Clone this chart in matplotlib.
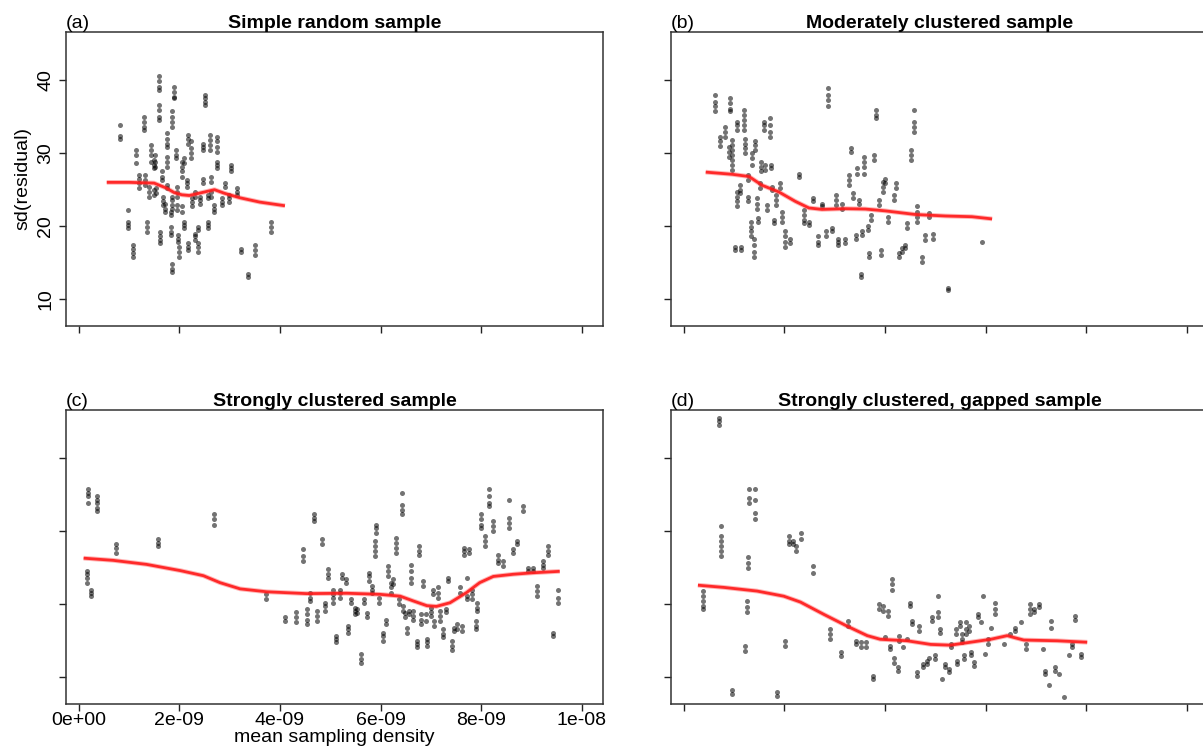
import matplotlib
matplotlib.use("Agg")
import matplotlib.pyplot as plt

plt.rcParams['font.family'] = ['Liberation Sans', 'DejaVu Sans']

# x values in units of 1e-9, y = sd(residual); each x has a column of replicate values
a_x = [0.82, 0.98, 1.09, 1.14, 1.21, 1.29, 1.31, 1.35, 1.40, 1.43, 1.49, 1.50, 1.52, 1.54,
       1.59, 1.59, 1.62, 1.65, 1.68, 1.72, 1.75, 1.75, 1.76, 1.84, 1.84, 1.86, 1.86, 1.86,
       1.90, 1.93, 1.95, 1.96, 1.97, 1.99, 2.05, 2.05, 2.10, 2.10, 2.15, 2.17, 2.18, 2.23,
       2.26, 2.31, 2.31, 2.37, 2.38, 2.41, 2.48, 2.48, 2.51, 2.58, 2.58, 2.61, 2.63, 2.63,
       2.70, 2.76, 2.76, 2.84, 2.91, 2.98, 3.02, 3.14, 3.23, 3.37, 3.51, 3.82]
a_y = [[33.8, 32.4, 31.9], [22.2, 20.6, 20.2, 19.7], [17.4, 16.9, 16.3, 15.8], [30.4, 29.7, 28.6],
       [27.0, 26.5, 25.9, 25.2], [35.0, 34.3, 33.6, 33.2], [27.0, 26.3, 25.6], [20.6, 19.9, 19.2],
       [25.4, 24.7, 24.0], [31.1, 30.4, 29.7, 28.8], [29.0, 28.4, 27.9], [24.9, 24.3],
       [29.7, 28.8, 28.1], [25.2, 24.5], [40.5, 39.8, 39.1, 38.6], [36.6, 35.9, 35.0, 34.5],
       [19.2, 18.6, 18.1, 17.7], [27.5, 26.8, 26.3], [24.0, 23.4, 22.9], [23.1, 22.4, 22.0],
       [29.5, 28.8, 28.1], [25.6, 25.2], [32.7, 32.0, 31.3, 30.9], [19.9, 19.2, 18.8], [22.0, 21.5],
       [35.7, 35.0, 34.3, 33.6], [24.0, 23.6, 22.9, 22.4], [14.9, 14.2, 13.8],
       [39.1, 38.4, 37.7, 37.5], [30.4, 29.7, 29.3], [25.4, 24.7, 24.0], [22.9, 22.2],
       [18.8, 18.3, 17.9], [17.2, 16.5, 15.8], [28.8, 28.1, 27.5, 26.8], [22.7, 22.0],
       [20.6, 20.2, 19.7], [29.3, 28.6], [26.3, 25.9, 25.4], [17.7, 17.2, 16.7], [32.5, 32.0, 31.3],
       [31.6, 30.7, 30.0, 29.3], [23.8, 23.3, 22.7], [19.0, 18.6, 18.1], [24.7, 24.0], [19.9, 19.5],
       [17.7, 17.1, 16.5], [24.0, 23.6, 23.1], [31.3, 30.9, 30.4], [26.5, 25.9],
       [37.9, 37.5, 37.0, 36.6], [20.6, 20.2, 19.7], [24.3, 23.8], [32.5, 31.8, 31.1, 30.4],
       [26.8, 26.1], [24.7, 24.0], [22.9, 22.4, 22.0], [32.2, 31.6, 30.9, 30.2], [28.8, 28.4, 27.9],
       [23.8, 23.3, 22.9], [25.9, 25.4], [24.3, 23.8, 23.3], [28.4, 27.9, 27.5], [25.2, 24.7, 24.3],
       [16.9, 16.5], [13.5, 13.1], [17.4, 16.7, 16.0], [20.6, 19.9, 19.2]]
a_fit_x = [0.56, 1.0, 1.5, 1.75, 1.9, 2.05, 2.2, 2.45, 2.7, 2.9, 3.2, 3.6, 4.1]
a_fit_y = [26.0, 26.0, 25.9, 25.2, 24.6, 24.3, 24.2, 24.6, 25.0, 24.5, 23.9, 23.3, 22.8]

b_x = [0.62, 0.73, 0.83, 0.92, 0.90, 0.97, 1.03, 1.07, 1.07, 1.15, 1.13, 1.20, 1.23, 1.28,
       1.28, 1.33, 1.36, 1.40, 1.42, 1.46, 1.48, 1.54, 1.52, 1.60, 1.62, 1.66, 1.71, 1.73,
       1.76, 1.79, 1.83, 1.91, 1.96, 2.02, 2.12, 2.29, 2.39, 2.49, 2.57, 2.67, 2.75, 2.82,
       2.87, 2.94, 3.02, 3.07, 3.15, 3.20, 3.28, 3.33, 3.36, 3.42, 3.45, 3.48, 3.52, 3.55,
       3.59, 3.67, 3.69, 3.73, 3.78, 3.83, 3.88, 3.93, 3.96, 4.01, 4.06, 4.18, 4.23, 4.29,
       4.33, 4.40, 4.43, 4.51, 4.57, 4.64, 4.74, 4.79, 4.87, 4.96, 5.26, 5.92]
b_y = [[38.0, 37.0, 36.4, 35.8], [32.2, 31.6, 31.0], [33.6, 32.9, 32.2], [37.5, 36.8, 36.1, 35.7],
       [30.9, 30.2, 29.5], [31.8, 31.1, 30.4, 29.7, 29.1, 28.4, 27.7], [17.2, 16.7],
       [34.3, 33.8, 33.2], [24.7, 24.0, 23.4, 22.7], [17.2, 16.7], [25.6, 24.9, 24.5],
       [35.9, 35.2, 34.5, 33.8, 33.2], [32.0, 31.3, 30.7, 30.0], [27.0, 26.3], [24.0, 23.4],
       [20.6, 19.9, 19.3, 18.6], [30.0, 29.3, 28.4], [18.3, 17.4, 16.5, 15.8], [31.6, 31.1, 30.4],
       [23.8, 23.1, 22.4], [21.1, 20.6], [28.8, 28.1, 27.5], [25.9, 25.2], [34.3, 33.8, 33.2],
       [28.4, 27.7], [22.9, 22.2], [34.8, 33.8, 32.9, 32.2], [28.4, 27.9], [25.4, 24.9],
       [20.8, 20.4], [24.3, 23.6, 22.9], [25.9, 25.2], [22.0, 21.3, 20.6], [19.3, 18.6, 17.9, 17.2],
       [18.3, 17.7], [27.2, 26.8], [22.2, 21.5, 20.8, 20.4], [20.6, 20.2], [23.8, 23.4],
       [18.6, 17.9, 17.4], [23.1, 22.7], [19.3, 18.6], [38.9, 38.0, 37.3, 36.4], [19.7, 19.3],
       [24.3, 23.6, 22.9], [18.3, 17.9, 17.4], [23.1, 22.4], [18.3, 17.7], [27.0, 26.3, 25.6],
       [30.7, 30.2], [24.5, 23.8], [18.8, 18.3], [27.9, 27.2], [23.6, 23.1], [13.5, 13.1],
       [19.3, 18.8], [29.5, 28.8, 28.1, 27.2], [20.0, 19.5], [16.3, 15.8], [21.5, 20.8],
       [29.7, 29.1], [35.9, 35.2, 34.8], [23.6, 22.9], [16.7, 16.1], [26.1, 25.4, 24.7],
       [26.5, 25.9], [21.3, 20.6], [24.3, 23.6], [25.9, 25.2], [16.3, 15.8], [17.0, 16.5],
       [17.4, 17.0], [20.4, 19.7], [30.4, 29.7, 29.1], [35.9, 34.3, 33.6, 32.9],
       [22.7, 22.0, 21.3, 20.6], [15.8, 15.1], [18.8, 18.1], [21.8, 21.3], [19.0, 18.3],
       [11.5, 11.3], [17.9]]
b_fit_x = [0.44, 0.97, 1.30, 1.56, 1.89, 2.22, 2.49, 2.75, 3.22, 3.61, 4.01, 4.61, 5.20, 5.73, 6.13]
b_fit_y = [27.4, 27.1, 26.8, 25.6, 24.7, 23.4, 22.5, 22.3, 22.4, 22.35, 22.1, 21.6, 21.4, 21.3, 21.0]

c_x = [0.195, 0.36, 0.16, 0.25, 0.745, 1.57, 2.69, 3.72, 4.11, 4.32, 4.45, 4.53, 4.60, 4.68,
       4.74, 4.83, 4.90, 4.96, 5.05, 5.11, 5.19, 5.23, 5.31, 5.35, 5.41, 5.49, 5.54, 5.62,
       5.67, 5.74, 5.78, 5.84, 5.91, 5.89, 5.97, 6.04, 6.11, 6.15, 6.20, 6.25, 6.31, 6.37,
       6.42, 6.44, 6.48, 6.52, 6.57, 6.60, 6.65, 6.72, 6.76, 6.80, 6.85, 6.91, 6.93, 7.00,
       7.05, 7.06, 7.15, 7.18, 7.25, 7.30, 7.35, 7.41, 7.45, 7.51, 7.58, 7.61, 7.66, 7.71,
       7.76, 7.81, 7.89, 7.91, 7.99, 8.07, 8.16, 8.24, 8.34, 8.44, 8.56, 8.64, 8.72, 8.83,
       8.93, 9.03, 9.10, 9.23, 9.33, 9.43, 9.53]
c_y = [[35.7, 35.2, 34.8, 33.9], [34.8, 34.3, 33.9, 33.2, 32.7], [24.5, 24.1, 23.6, 22.9],
       [22.0, 21.6, 21.1], [28.2, 27.7, 27.0], [28.9, 28.4, 28.0], [32.3, 31.6, 30.9], [21.4, 20.7],
       [18.2, 17.7], [18.9, 18.2, 17.5], [27.5, 26.6, 25.9], [19.3, 18.6, 17.9, 17.3],
       [21.6, 20.9, 20.4], [32.3, 31.8, 31.4], [19.1, 18.4, 17.7], [28.9, 28.2], [20.2, 19.8, 19.1],
       [24.8, 24.1, 23.6], [22.0, 21.4, 20.9, 20.2], [15.7, 15.2, 14.8], [22.0, 21.6, 20.9],
       [24.1, 23.6], [23.4, 22.9], [17.0, 16.6, 16.1], [20.7, 20.2], [19.5, 19.1, 18.6],
       [19.3, 18.8], [13.2, 12.5, 12.0], [20.7, 20.2], [18.8, 18.2], [24.3, 23.9, 23.2],
       [22.5, 22.0, 21.6], [30.9, 30.4, 29.8], [28.6, 28.0, 27.3, 26.6], [20.9, 20.2],
       [16.1, 15.7, 15.0], [17.9, 17.3], [25.2, 24.5, 23.9], [22.9, 22.3, 21.6], [23.4, 22.7],
       [29.1, 28.4, 27.7, 27.0], [20.7, 20.0], [35.2, 33.6, 32.9, 32.3], [19.8, 19.1], [18.8, 18.2],
       [16.8, 16.1], [19.1, 18.6], [25.4, 24.5, 23.6, 22.9], [19.1, 18.4, 17.9], [15.0, 14.5, 14.1],
       [28.0, 27.3, 26.8], [18.6, 17.9, 17.3], [23.2, 22.5], [18.6, 17.7], [15.2, 14.8, 14.3],
       [19.5, 18.9, 18.4], [22.0, 21.4], [17.7, 17.0], [22.3, 21.6, 20.9], [19.1, 18.4, 17.7],
       [16.6, 15.9, 15.5], [19.3, 18.9], [23.6, 23.2], [15.0, 14.3, 13.8], [16.8, 16.4],
       [17.3, 16.6], [22.3, 21.6], [17.0, 16.4], [27.7, 27.3, 26.8], [23.6, 21.1, 20.7],
       [27.5, 27.0], [22.0, 21.4, 20.7], [17.7, 17.0, 16.6], [20.2, 19.5, 19.1],
       [32.3, 31.6, 30.9, 30.4], [29.3, 28.6, 28.0], [35.7, 34.8, 33.9, 33.4], [31.4, 30.7, 30.0],
       [26.8, 26.1, 25.7], [25.9, 25.2], [34.3, 31.8, 31.1, 30.4], [27.5, 27.0], [28.6, 28.2],
       [33.4, 32.7], [25.0, 24.5], [25.0, 24.5], [22.5, 21.8, 21.1], [25.9, 25.4, 25.0],
       [28.0, 27.3, 26.8], [16.1, 15.7], [22.0, 20.9, 20.2]]
c_fit_x = [0.10, 0.69, 1.35, 2.02, 2.48, 2.81, 3.21, 3.74, 4.53, 5.33, 5.99, 6.39, 6.65, 6.92,
           7.11, 7.38, 7.71, 7.97, 8.24, 8.64, 9.03, 9.56]
c_fit_y = [26.3, 26.0, 25.45, 24.6, 23.9, 22.95, 22.1, 21.7, 21.45, 21.5, 21.35, 21.1, 20.45, 19.8,
           19.7, 20.2, 21.6, 22.95, 23.8, 24.1, 24.3, 24.5]

d_x = [0.39, 0.70, 0.75, 0.97, 1.22, 1.27, 1.29, 1.28, 1.42, 1.85, 2.01, 2.09, 2.18, 2.24,
       2.34, 2.57, 2.91, 3.13, 3.27, 3.43, 3.53, 3.63, 3.77, 3.88, 3.97, 4.01, 4.06, 4.11,
       4.15, 4.19, 4.26, 4.29, 4.36, 4.44, 4.49, 4.54, 4.64, 4.67, 4.75, 4.83, 4.87, 4.94,
       5.00, 5.05, 5.09, 5.14, 5.20, 5.27, 5.32, 5.42, 5.43, 5.49, 5.53, 5.57, 5.62, 5.67,
       5.72, 5.77, 5.85, 5.90, 5.95, 5.98, 6.05, 6.10, 6.18, 6.36, 6.49, 6.59, 6.71, 6.81,
       6.88, 6.96, 7.06, 7.14, 7.19, 7.26, 7.30, 7.38, 7.45, 7.55, 7.65, 7.71, 7.77, 7.89]
d_y = [[21.8, 21.1, 20.5, 19.8, 19.3], [45.5, 45.0, 44.5], [30.7, 29.3, 28.6, 27.9, 27.3, 26.6],
       [8.2, 7.7], [14.3, 13.6], [20.5, 19.6, 18.9], [35.7, 34.5, 33.9], [26.4, 25.7, 25.0],
       [35.7, 34.3, 32.5, 31.6], [8.0, 7.5], [15.0, 14.3], [29.3, 28.6, 28.2], [28.6, 28.2],
       [27.9, 27.3], [29.8, 28.9], [25.2, 24.3], [16.6, 15.9, 15.2], [13.4, 12.9], [17.7, 17.0],
       [15.0, 14.5], [14.8, 14.1], [14.8, 14.1], [10.2, 9.8], [20.0, 19.3], [19.8, 19.1], [15.5],
       [19.1, 18.4], [14.3, 13.9], [23.4, 22.7, 22.0], [12.7, 12.0], [11.4, 10.9], [15.7, 15.0],
       [14.1], [15.2], [20.2, 19.8], [17.7, 17.3], [10.7, 10.2], [17.0, 16.4], [11.8, 11.4],
       [12.3, 11.8], [12.6], [18.2, 17.7], [13.0, 12.5], [21.1, 18.9, 18.2], [16.6, 16.1], [9.8],
       [11.8, 11.4], [11.1, 10.7], [14.5, 14.1], [16.6, 15.9], [12.3, 11.8], [17.5, 17.0],
       [15.9, 15.2, 14.8], [13.0, 12.5], [17.5, 16.6, 15.9], [17.0, 16.4], [13.4, 13.0],
       [12.1, 11.6], [18.6, 18.2], [17.5], [21.1], [13.2], [15.2, 14.5], [16.8],
       [20.2, 19.3, 18.6], [14.5], [15.9], [16.8, 16.4], [17.5], [14.5, 13.9], [20.0, 19.3, 18.6],
       [19.3, 18.9], [20.0, 19.6], [13.9], [10.9, 10.5], [8.9], [17.7, 16.8], [11.4, 10.9], [10.5],
       [7.3], [13.0], [14.5, 14.1], [18.4, 17.9], [13.2, 12.8]]
d_fit_x = [0.285, 0.80, 1.46, 1.99, 2.32, 2.79, 3.25, 3.65, 3.91, 4.44, 4.91, 5.30, 5.70, 6.10,
           6.43, 6.59, 6.76, 7.42, 8.02]
d_fit_y = [22.6, 22.3, 21.8, 21.1, 20.3, 18.6, 17.0, 15.7, 15.2, 15.0, 14.5, 14.4, 14.8, 15.2,
           15.7, 15.4, 15.1, 15.0, 14.8]

titles = ['Simple random sample', 'Moderately clustered sample',
          'Strongly clustered sample', 'Strongly clustered, gapped sample']
tags = ['(a)', '(b)', '(c)', '(d)']
x_ticks = [0, 2, 4, 6, 8, 10]
x_tick_labels = ['0e+00', '2e-09', '4e-09', '6e-09', '8e-09', '1e-08']
y_ticks = [10, 20, 30, 40]

panels = [(a_x, a_y, a_fit_x, a_fit_y), (b_x, b_y, b_fit_x, b_fit_y),
          (c_x, c_y, c_fit_x, c_fit_y), (d_x, d_y, d_fit_x, d_fit_y)]

W, H = 1203, 755
fig = plt.figure(figsize=(W / 100, H / 100), dpi=100)
lefts = [66, 671, 66, 671]
tops = [32, 32, 410, 410]
aw, ah = 537, 294

for i, (xs, ys, fx, fy) in enumerate(panels):
    ax = fig.add_axes([lefts[i] / W, 1 - (tops[i] + ah) / H, aw / W, ah / H])
    px, py = [], []
    for x, col in zip(xs, ys):
        for y in col:
            px.append(x)
            py.append(y)
    ax.scatter(px, py, s=13, color='black', alpha=0.55, linewidths=0, zorder=2)
    # soft halo + core so the smoother looks like R's semi-transparent thick line
    ax.plot(fx, fy, color='#ff3030', lw=3.4, alpha=0.35, zorder=3, solid_capstyle='butt')
    ax.plot(fx, fy, color='#ff1a1a', lw=2.0, alpha=0.9, zorder=3, solid_capstyle='butt')

    ax.set_xlim(-0.25, 10.42)
    ax.set_ylim(6.35, 46.57)
    ax.set_xticks(x_ticks)
    ax.set_yticks(y_ticks)
    ax.tick_params(direction='out', length=5, width=1, color='#222222', labelsize=14)
    for sp in ax.spines.values():
        sp.set_linewidth(1.1)
        sp.set_color('#333333')

    if i == 0:
        ax.set_yticklabels([str(v) for v in y_ticks], rotation=90, va='center')
        ax.set_ylabel('sd(residual)', fontsize=14, labelpad=4)
    else:
        ax.set_yticklabels([])
    if i == 2:
        ax.set_xticklabels(x_tick_labels)
        ax.tick_params(axis='x', pad=1)
        ax.set_xlabel('mean sampling density', fontsize=14, labelpad=0)
    else:
        ax.set_xticklabels([])

    ax.set_title(titles[i], fontsize=14, fontweight='bold', pad=3)
    ax.text(0, 1.0, tags[i], transform=ax.transAxes, fontsize=14, ha='left', va='bottom')

fig.savefig('out.png', dpi=100)
